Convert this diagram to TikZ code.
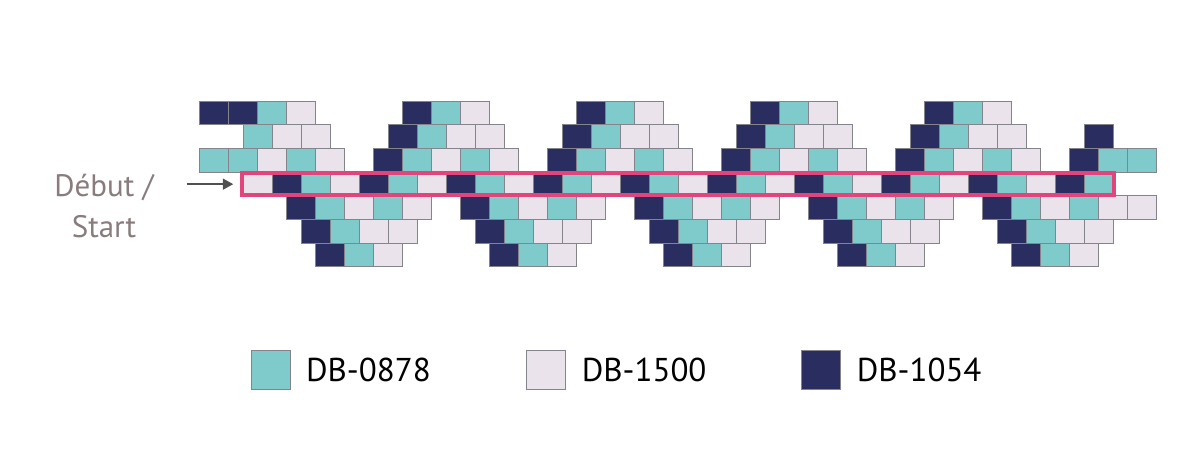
\documentclass[tikz,border=0pt]{standalone}
\usepackage{fontspec}
\setmainfont{PT Sans}
\usetikzlibrary{positioning,arrows.meta}
\definecolor{beadteal}{HTML}{7FCACB}
\definecolor{beadlight}{HTML}{EAE3EB}
\definecolor{beaddark}{HTML}{2A2D5F}
\definecolor{beadedge}{HTML}{84848C}
\definecolor{startpink}{HTML}{E2457B}
\definecolor{labelgrey}{HTML}{8A7B7D}
\definecolor{arrowgrey}{HTML}{505050}
\newcommand{\bead}[3]{\filldraw [beadbox,fill=#3] ({243+14.5*(#1)},{172+23.7*(#2)}) rectangle ++(29,23.7);}
\newcommand{\beadgroup}[2]{%
  \bead{#1}{#2}{beaddark} \bead{#1+2}{#2}{beadteal} \bead{#1+4}{#2}{beadlight} \bead{#1+6}{#2}{beadteal} \bead{#1+8}{#2}{beadlight}
  \bead{#1+1}{2*(#2)}{beaddark} \bead{#1+3}{2*(#2)}{beadteal} \bead{#1+5}{2*(#2)}{beadlight} \bead{#1+7}{2*(#2)}{beadlight}
  \bead{#1+2}{3*(#2)}{beaddark} \bead{#1+4}{3*(#2)}{beadteal} \bead{#1+6}{3*(#2)}{beadlight}}
\begin{document}
\begin{tikzpicture}[x=1pt,y=-1pt,
    beadbox/.style={draw=beadedge,line width=.8pt},
    startbox/.style={draw=startpink,line width=4pt,inner sep=0pt,minimum width=871.7,minimum height=22.3},
    startlabel/.style={text=labelgrey,align=center,font=\fontsize{31}{41.7}\selectfont},
    startarrow/.style={draw=arrowgrey,line width=1.8pt,-{Triangle[length=10.5pt,width=11pt]}},
    keybox/.style={draw=beadedge,line width=.8pt,minimum size=39,inner sep=0pt},
    keytext/.style={inner sep=0pt,font=\fontsize{33}{40}\selectfont}]
    \useasboundingbox (0,0) rectangle (1200,450);
    \foreach \k in {0,6,...,54} {\bead{\k}{0}{beadlight} \bead{\k+2}{0}{beaddark} \bead{\k+4}{0}{beadteal}}
    \foreach \g in {9,21,33,45} {\beadgroup{\g}{-1}}
    \foreach \g in {3,15,27,39,51} {\beadgroup{\g}{1}}
    \bead{-3}{-1}{beadteal} \bead{-1}{-1}{beadteal} \bead{1}{-1}{beadlight} \bead{3}{-1}{beadteal} \bead{5}{-1}{beadlight}
    \bead{0}{-2}{beadteal} \bead{2}{-2}{beadlight} \bead{4}{-2}{beadlight}
    \bead{-3}{-3}{beaddark} \bead{-1}{-3}{beaddark} \bead{1}{-3}{beadteal} \bead{3}{-3}{beadlight}
    \bead{57}{-1}{beaddark} \bead{59}{-1}{beadteal} \bead{61}{-1}{beadteal}
    \bead{58}{-2}{beaddark}
    \bead{61}{1}{beadlight}
    \node [startbox] (startrow) at (677.9,184.15) {};
    \node [startlabel] (startlabel) at (104,206) {Début /\\Start};
    \coordinate (arrowtail) at (186.5,184.15);
    \draw [startarrow] (arrowtail) -- ([xshift=-6.8pt]startrow.west);
    \node [keybox,fill=beadteal] (keyteal) at (270.5,369.5) {};
    \node [keybox,fill=beadlight] (keylight) at (546.2,369.5) {};
    \node [keybox,fill=beaddark] (keydark) at (821.2,370) {};
    \node [keytext,right=15.5pt of keyteal] (keytealtext) {DB-0878};
    \node [keytext,right=15.5pt of keylight] (keylighttext) {DB-1500};
    \node [keytext,right=15.5pt of keydark] (keydarktext) {DB-1054};
\end{tikzpicture}
\end{document}
